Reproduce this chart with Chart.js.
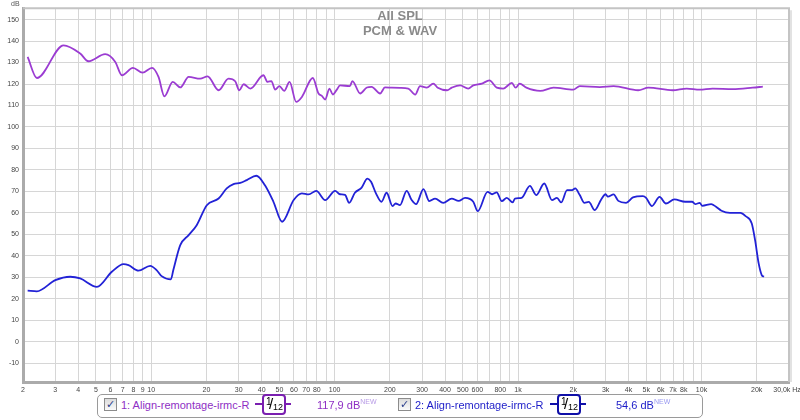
<!DOCTYPE html>
<html>
<head>
<meta charset="utf-8">
<script src="https://cdn.jsdelivr.net/npm/chart.js@4.4.1/dist/chart.umd.min.js"></script>
<style>
    body { margin: 0; background: #fff; font-family: "Liberation Sans", Arial, sans-serif; }
    #wrap { position: relative; width: 800px; height: 420px; overflow: hidden; }
    #chart { position: absolute; left: 0; top: 0; }
    .title { position: absolute; left: 300px; width: 200px; top: 8px; text-align: center;
             font: bold 13px "Liberation Sans", Arial, sans-serif; line-height: 15px; color: #8a8a8a; }
    .unit { position: absolute; left: 11px; top: 0px; font-size: 7px; color: #555; }
    .legend { position: absolute; left: 97px; top: 394px; width: 604px; height: 22px;
              border: 1px solid #9a9a9a; border-radius: 5px; background: #fff; }
    .cb { position: absolute; top: 398px; width: 11px; height: 11px; border: 1px solid #8c8c8c;
          background: linear-gradient(#dcdcdc, #fafafa); font: bold 11px "DejaVu Sans", sans-serif;
          line-height: 11px; text-align: center; color: #2c3f8c; }
    .name { position: absolute; top: 398px; font-size: 11px; line-height: 14px; white-space: nowrap; }
    .filt { position: absolute; top: 394px; width: 36px; height: 21px; }
    .filt .ln { position: absolute; left: 0; right: 0; top: 9px; height: 2px; }
    .filt .bx { position: absolute; left: 7px; top: 0; width: 20px; height: 17px; border: 2px solid;
                border-radius: 4px; background: #fff; color: #000; }
    .bx span { position: absolute; font-family: "Liberation Sans", Arial, sans-serif; }
    .bx .n1 { left: 2px; top: 1px; font-size: 10px; line-height: 10px; }
    .bx .sl { left: 5px; top: 0px; font-size: 15px; line-height: 16px; }
    .bx .n2 { left: 9px; top: 7px; font-size: 9px; line-height: 9px; }
    .val { position: absolute; top: 398px; font-size: 11px; line-height: 14px; white-space: nowrap; }
    .val sup { font-size: 7px; vertical-align: 5px; line-height: 0; }
</style>
</head>
<body>
<div id="wrap">
    <canvas id="chart" width="800" height="420"></canvas>
    <div class="title">All SPL<br>PCM &amp; WAV</div>
    <div class="unit">dB</div>
    <div class="legend"></div>

    <div class="cb" style="left:104px">✓</div>
    <div class="name" style="left:121px;color:#8e2fc4">1: Align-remontage-irmc-R</div>
    <div class="filt" style="left:255px">
        <div class="ln" style="background:#7a1fb0"></div>
        <div class="bx" style="border-color:#7a1fb0"><span class="n1">1</span><span class="sl">/</span><span class="n2">12</span></div>
    </div>
    <div class="val" style="left:317px;color:#8e2fc4">117,9 dB<sup style="color:#b89be6">NEW</sup></div>

    <div class="cb" style="left:398px">✓</div>
    <div class="name" style="left:415px;color:#1c1cc8">2: Align-remontage-irmc-R</div>
    <div class="filt" style="left:550px">
        <div class="ln" style="background:#0f0fa8"></div>
        <div class="bx" style="border-color:#0f0fa8"><span class="n1">1</span><span class="sl">/</span><span class="n2">12</span></div>
    </div>
    <div class="val" style="left:616px;color:#1c1cc8">54,6 dB<sup style="color:#9a9af0">NEW</sup></div>
</div>

<script>
// Curve 1 (purple) - frequency in Hz, level in dB
const freq1 = [2.12, 2.38, 3.33, 4.1, 4.55, 5.61, 6.37, 6.92, 7.95, 8.97, 10.1, 10.96, 11.8, 13.1, 14.4, 16.0, 18.5, 20.3,
    23.3, 26.4, 28.7, 30.2, 31.9, 34.7, 40.9, 43.1, 45.2, 47.4, 50, 53.1, 56.8, 61.7, 66.3, 76, 81.7, 85.2, 88.8, 93.7,
    97.7, 102.8, 107, 121, 125, 137.7, 150, 159, 177, 188, 205, 227, 252, 275, 292, 318, 345, 365, 410, 435, 483, 535,
    570, 635, 698, 765, 830, 925, 970, 1020, 1110, 1320, 1560, 2000, 2170, 2790, 3320, 4520, 5130, 6970, 8310, 9780,
    11500, 14800, 19000, 21600];
const spl1 = [132.6, 122.8, 138, 134.2, 130.6, 133.9, 130.3, 124.1, 127.5, 125.3, 127.5, 123.3, 114.3, 121, 118.4, 123.3,
    122.5, 123.6, 117.1, 122.5, 121.3, 117.1, 119.9, 117.9, 124.1, 121, 121.4, 117.4, 119, 116.8, 121, 111.7, 114, 122.8,
    115.6, 114.5, 112.8, 117.9, 115.1, 117.4, 119.4, 119, 121.4, 115.6, 118.4, 118.7, 115.6, 118.4, 118.3, 118.2, 117.9,
    115.1, 119, 118.3, 120.2, 118.3, 117.1, 118.3, 119.4, 117.9, 119.4, 120.2, 121.7, 118.3, 117.9, 120.5, 118.3, 120.2,
    118.3, 116.8, 118.3, 117.4, 119, 118.6, 119, 117.1, 118.3, 117.1, 117.9, 117.4, 117.9, 117.6, 118.3, 118.8];

// Curve 2 (blue)
const freq2 = [2.12, 2.38, 3.0, 3.62, 4.1, 5.06, 6.1, 7.07, 7.52, 8.52, 9.87, 10.7, 11.4, 12.8, 13.2, 14.4, 16.0, 17.7,
    20.1, 23.3, 25.8, 28.1, 30.6, 33.2, 37.4, 41.7, 46.4, 51.7, 59.8, 66.3, 72.1, 79.4, 88.8, 100.6, 107, 114, 120, 129,
    140, 151, 158, 168, 180, 192, 207, 215, 227, 247, 263, 278, 305, 328, 353, 391, 435, 474, 514, 570, 603, 682, 722,
    765, 815, 868, 935, 962, 1045, 1160, 1255, 1390, 1530, 1630, 1720, 1850, 1970, 2050, 2170, 2300, 2430, 2620, 2840,
    3000, 3090, 3320, 3520, 3880, 4230, 4790, 4990, 5370, 5910, 6400, 7110, 8150, 8890, 9250, 9780, 10100, 11300, 12000,
    12850, 14300, 16300, 17400, 18800, 19600, 20500, 21300, 21900];
const spl2 = [23.8, 23.5, 28.7, 30.3, 29.5, 25.6, 32.6, 36.2, 35.7, 33.1, 35.4, 33.4, 30.6, 29.1, 33.4, 45, 49.7, 54.3,
    63.6, 66.7, 71.4, 73.4, 74, 75.3, 77.3, 72.9, 65.2, 55.9, 66, 69.1, 68.6, 70.3, 66, 70.3, 68.7, 68.4, 64.7, 69.4,
    71.7, 76, 74.5, 69.1, 65.2, 69.4, 63.2, 64.4, 63.6, 70.3, 66, 64.1, 71.1, 65.5, 66.7, 64.7, 66.7, 65.6, 67, 65.2,
    60.8, 69.8, 68.7, 69.6, 65.5, 67, 64.9, 66.7, 67, 72.6, 68.3, 73.7, 66, 67, 64.9, 70.6, 70.6, 71.4, 68.3, 64.7, 65.1,
    61.3, 66.3, 68.7, 67.6, 68.6, 65.6, 64.7, 67.2, 67.8, 67, 63.2, 67.5, 64.4, 66.3, 65.2, 65.2, 64.1, 64.7, 63.3, 64.1,
    62.9, 61, 60, 60, 58.5, 55.1, 47.3, 36.5, 31.1, 30.3];

// Axis ticks
const xTicks = [2, 3, 4, 5, 6, 7, 8, 9, 10, 20, 30, 40, 50, 60, 70, 80, 90, 100, 200, 300, 400, 500, 600, 700, 800, 900,
    1000, 2000, 3000, 4000, 5000, 6000, 7000, 8000, 9000, 10000, 20000, 30000];
const xLabels = ["2", "3", "4", "5", "6", "7", "8", "9", "10", "20", "30", "40", "50", "60", "70", "80", "", "100",
    "200", "300", "400", "500", "600", "", "800", "", "1k", "2k", "3k", "4k", "5k", "6k", "7k", "8k", "", "10k", "20k",
    "30,0k Hz  "];
const yTicks = [-10, 0, 10, 20, 30, 40, 50, 60, 70, 80, 90, 100, 110, 120, 130, 140, 150];

const toPoints = (xs, ys) => xs.map((x, i) => ({ x: x, y: ys[i] }));

// top and right edge of the plot frame
const frame = {
    id: "frame",
    afterDraw(chart) {
        const { ctx, chartArea: a } = chart;
        ctx.save();
        ctx.strokeStyle = "#c4c4c4";
        ctx.lineWidth = 2;
        ctx.beginPath();
        ctx.moveTo(a.left, a.top);
        ctx.lineTo(a.right, a.top);
        ctx.lineTo(a.right, a.bottom);
        ctx.stroke();
        ctx.strokeStyle = "#e2e2e2";
        ctx.beginPath();
        ctx.moveTo(a.right + 2, a.top + 2);
        ctx.lineTo(a.right + 2, a.bottom);
        ctx.stroke();
        ctx.restore();
    }
};

new Chart(document.getElementById("chart"), {
    type: "line",
    data: {
        datasets: [{
            label: "1: Align-remontage-irmc-R",
            data: toPoints(freq1, spl1),
            borderColor: "#9b3cd2",
            borderWidth: 1.8,
            pointRadius: 0,
            cubicInterpolationMode: "monotone"
        }, {
            label: "2: Align-remontage-irmc-R",
            data: toPoints(freq2, spl2),
            borderColor: "#2222d6",
            borderWidth: 1.8,
            pointRadius: 0,
            cubicInterpolationMode: "monotone"
        }]
    },
    options: {
        responsive: false,
        animation: false,
        layout: { padding: { top: 8, right: 11, left: 0, bottom: 0 } },
        plugins: { legend: { display: false }, tooltip: { enabled: false } },
        scales: {
            x: {
                type: "logarithmic",
                min: 2,
                max: 30000,
                afterBuildTicks: scale => { scale.ticks = xTicks.map(v => ({ value: v })); },
                afterFit: scale => { scale.height = 38; scale.paddingLeft = 0; scale.paddingRight = 0; },
                grid: { color: "#d6d6d6", drawTicks: false },
                border: { color: "#ababab", width: 3 },
                ticks: {
                    autoSkip: false,
                    maxRotation: 0,
                    padding: 4,
                    color: "#444",
                    font: { family: "Liberation Sans", size: 7 },
                    callback: (v, i) => xLabels[i]
                }
            },
            y: {
                min: -18.7,
                max: 155.3,
                afterBuildTicks: scale => { scale.ticks = yTicks.map(v => ({ value: v })); },
                afterFit: scale => { scale.width = 23; },
                grid: { color: "#d6d6d6", drawTicks: false },
                border: { color: "#ababab", width: 3 },
                ticks: {
                    padding: 4,
                    color: "#444",
                    font: { family: "Liberation Sans", size: 7 }
                }
            }
        }
    },
    plugins: [frame]
});
</script>
</body>
</html>
